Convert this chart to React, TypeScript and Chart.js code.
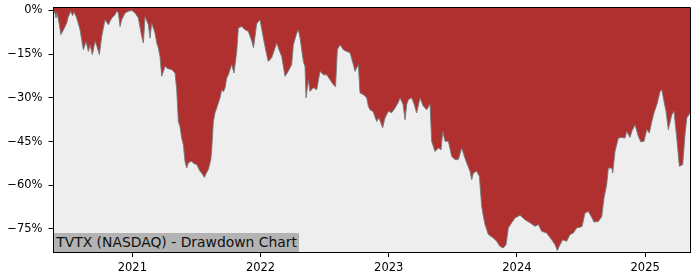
import React, { useEffect, useRef } from "react";
import { Chart, registerables } from "chart.js";

Chart.register(...registerables);

const chartLabel = "TVTX (NASDAQ) - Drawdown Chart";

// decimal-year dates of the sampled points
const years: number[] = [
  2020.385, 2020.397, 2020.405, 2020.413, 2020.431, 2020.442, 2020.459, 2020.488, 2020.501, 2020.52,
  2020.534, 2020.545, 2020.566, 2020.592, 2020.618, 2020.639, 2020.657, 2020.67, 2020.688, 2020.709,
  2020.722, 2020.743, 2020.761, 2020.787, 2020.813, 2020.839, 2020.865, 2020.878, 2020.891, 2020.904,
  2020.917, 2020.943, 2020.969, 2020.995, 2021.021, 2021.047, 2021.073, 2021.086, 2021.099, 2021.125,
  2021.138, 2021.151, 2021.177, 2021.19, 2021.203, 2021.216, 2021.229, 2021.242, 2021.255, 2021.278,
  2021.307, 2021.333, 2021.346, 2021.359, 2021.372, 2021.385, 2021.398, 2021.411, 2021.424, 2021.438,
  2021.463, 2021.481, 2021.502, 2021.528, 2021.544, 2021.562, 2021.575, 2021.593, 2021.612, 2021.619,
  2021.632, 2021.645, 2021.658, 2021.684, 2021.697, 2021.711, 2021.723, 2021.736, 2021.749, 2021.775,
  2021.793, 2021.814, 2021.827, 2021.853, 2021.879, 2021.905, 2021.931, 2021.945, 2021.97, 2021.996,
  2022.022, 2022.048, 2022.061, 2022.087, 2022.113, 2022.126, 2022.144, 2022.165, 2022.191, 2022.215,
  2022.243, 2022.256, 2022.282, 2022.295, 2022.308, 2022.334, 2022.347, 2022.355, 2022.373, 2022.386,
  2022.412, 2022.438, 2022.464, 2022.49, 2022.516, 2022.542, 2022.568, 2022.585, 2022.599, 2022.62,
  2022.646, 2022.672, 2022.698, 2022.724, 2022.737, 2022.763, 2022.776, 2022.802, 2022.828, 2022.841,
  2022.854, 2022.878, 2022.906, 2022.924, 2022.952, 2022.971, 2022.997, 2023.023, 2023.049, 2023.073,
  2023.088, 2023.112, 2023.127, 2023.14, 2023.153, 2023.179, 2023.197, 2023.218, 2023.244, 2023.268,
  2023.296, 2023.322, 2023.335, 2023.361, 2023.387, 2023.408, 2023.421, 2023.439, 2023.465, 2023.491,
  2023.517, 2023.543, 2023.569, 2023.59, 2023.608, 2023.634, 2023.647, 2023.66, 2023.686, 2023.707,
  2023.725, 2023.736, 2023.751, 2023.777, 2023.816, 2023.842, 2023.868, 2023.894, 2023.915, 2023.933,
  2023.959, 2023.985, 2024.024, 2024.063, 2024.102, 2024.141, 2024.167, 2024.193, 2024.232, 2024.271,
  2024.297, 2024.315, 2024.336, 2024.357, 2024.388, 2024.414, 2024.44, 2024.467, 2024.492, 2024.508,
  2024.531, 2024.557, 2024.584, 2024.601, 2024.635, 2024.662, 2024.679, 2024.7, 2024.713, 2024.74,
  2024.747, 2024.765, 2024.791, 2024.818, 2024.843, 2024.857, 2024.882, 2024.896, 2024.921, 2024.947,
  2024.966, 2024.991, 2025.013, 2025.033, 2025.052, 2025.069, 2025.095, 2025.116, 2025.13, 2025.147,
  2025.163, 2025.181, 2025.208, 2025.225, 2025.247, 2025.267, 2025.293, 2025.311, 2025.325, 2025.35,
];

// drawdown in percent
const drawdown: number[] = [
  0, -1.1, -2.6, -0.8, -4.9, -8.3, -7.0, -4.3, -2.1, -0.3,
  -1.8, -0.5, -2.6, -6.6, -13.5, -10.6, -14.1, -11.8, -15.2, -10.6,
  -12.1, -15.2, -8.9, -3.2, -4.9, -2.6, -1.5, -0.3, -0.8, -5.5,
  -3.2, -0.9, -0.3, 0, -0.9, -2.6, -8.9, -11.2, -2.1, -4.9,
  -9.5, -4.3, -7.8, -11.1, -12.9, -15.8, -22.6, -21.0, -19.2, -20.0,
  -20.3, -21.5, -27.2, -38.1, -39.9, -43.8, -46.1, -51.8, -54.1, -52.2,
  -51.8, -52.6, -52.9, -55.2, -56.0, -57.3, -56.0, -54.6, -51.2, -47.8,
  -38.1, -35.1, -33.5, -30.0, -27.2, -27.9, -26.6, -23.2, -22.1, -18.6,
  -21.5, -14.1, -6.0, -5.5, -6.6, -7.2, -10.4, -12.8, -4.6, -3.2,
  -9.5, -15.2, -17.5, -16.2, -12.9, -11.2, -13.5, -15.8, -22.6, -21.0,
  -18.6, -11.8, -7.8, -6.6, -9.4, -17.5, -19.3, -30.0, -23.8, -27.8,
  -26.5, -27.2, -20.9, -22.1, -22.1, -23.8, -25.5, -26.2, -13.5, -11.8,
  -13.5, -14.1, -14.5, -18.6, -20.9, -18.6, -28.3, -28.9, -30.0, -32.9,
  -34.1, -34.7, -38.1, -36.8, -40.3, -36.9, -34.6, -35.1, -33.5, -31.7,
  -30.0, -32.3, -37.5, -32.3, -30.6, -30.0, -32.0, -35.2, -30.0, -32.7,
  -34.1, -32.1, -44.9, -48.4, -47.2, -47.8, -41.5, -44.9, -44.9, -50.1,
  -51.2, -51.2, -47.2, -50.1, -52.3, -55.2, -58.1, -55.8, -55.2, -56.9,
  -67.2, -70.1, -73.5, -76.9, -78.1, -79.2, -81.0, -81.5, -80.4, -74.6,
  -72.9, -71.2, -70.3, -71.8, -72.9, -74.1, -73.5, -75.8, -76.4, -78.7,
  -80.4, -82.4, -80.4, -78.7, -79.2, -76.9, -76.4, -74.6, -74.4, -74.1,
  -69.5, -69.0, -71.1, -72.6, -72.4, -70.7, -64.4, -59.8, -54.1, -54.1,
  -55.8, -48.4, -43.8, -43.6, -43.8, -41.5, -43.6, -41.5, -39.2, -43.2,
  -45.1, -44.9, -40.9, -42.1, -38.1, -35.2, -31.8, -27.8, -27.2, -31.2,
  -34.6, -40.9, -35.8, -34.6, -43.8, -53.5, -52.9, -42.6, -36.9, -35.2,
];

const xTickYears: number[] = [2021, 2022, 2023, 2024, 2025];
const yTickValues: number[] = [0, -15, -30, -45, -60, -75];
const yMin = -82.9;
const yMax = 1.17;

const FONT = "'DejaVu Sans', sans-serif";

export default function App() {
  const canvasRef = useRef<HTMLCanvasElement | null>(null);

  useEffect(() => {
    const canvas = canvasRef.current;
    if (!canvas) return;

    const framePlugin = {
      id: "frame",
      beforeDraw(chart: any) {
        const { ctx, chartArea } = chart;
        ctx.save();
        ctx.fillStyle = "#EEEEEE";
        ctx.fillRect(chartArea.left, chartArea.top, chartArea.right - chartArea.left, chartArea.bottom - chartArea.top);
        ctx.restore();
      },
      afterDraw(chart: any) {
        const { ctx, chartArea } = chart;
        ctx.save();
        ctx.strokeStyle = "#000";
        ctx.lineWidth = 1;
        ctx.beginPath();
        const t = Math.round(chartArea.top) + 0.5;
        const r = Math.round(chartArea.right) + 0.5;
        ctx.moveTo(chartArea.left, t);
        ctx.lineTo(r, t);
        ctx.lineTo(r, chartArea.bottom);
        ctx.stroke();
        ctx.restore();
      },
    };

    const chart = new Chart(canvas, {
      type: "line",
      data: {
        datasets: [
          {
            data: years.map((x, i) => ({ x, y: drawdown[i] })),
            fill: "end",
            backgroundColor: "#B03030",
            borderColor: "rgba(120,120,120,0.9)",
            borderWidth: 1,
            pointRadius: 0,
            tension: 0,
          },
        ],
      },
      options: {
        animation: false,
        responsive: false,
        devicePixelRatio: 1,
        layout: { padding: { top: 7, right: 10, left: 0, bottom: 0 } },
        plugins: { legend: { display: false }, tooltip: { enabled: false } },
        scales: {
          x: {
            type: "linear",
            min: years[0],
            max: years[years.length - 1],
            afterBuildTicks: (axis: any) => {
              axis.ticks = xTickYears.map((v) => ({ value: v }));
            },
            afterFit: (scale: any) => {
              scale.height = 28;
              scale.paddingLeft = 0;
              scale.paddingRight = 0;
            },
            grid: { drawOnChartArea: false, drawTicks: true, tickLength: 5, color: "#000" },
            border: { display: true, color: "#000", width: 1 },
            ticks: {
              color: "#000",
              font: { family: FONT, size: 11.5 },
              padding: 4,
              maxRotation: 0,
              autoSkip: false,
              callback: (v: any) => String(v),
            },
          },
          y: {
            type: "linear",
            min: yMin,
            max: yMax,
            afterBuildTicks: (axis: any) => {
              axis.ticks = yTickValues.map((v) => ({ value: v }));
            },
            afterFit: (scale: any) => {
              scale.width = 53.5;
              scale.paddingTop = 0;
              scale.paddingBottom = 0;
            },
            grid: { drawOnChartArea: false, drawTicks: true, tickLength: 5, color: "#000" },
            border: { display: true, color: "#000", width: 1 },
            ticks: {
              color: "#000",
              font: { family: FONT, size: 11.5 },
              padding: 6,
              autoSkip: false,
              callback: (v: any) => (v < 0 ? "\u2212" : "") + Math.abs(v) + "%",
            },
          },
        },
      },
      plugins: [framePlugin],
    });

    return () => chart.destroy();
  }, []);

  return (
    <div style={{ position: "fixed", left: 0, top: 0, width: 700, height: 280, background: "#fff" }}>
      <canvas ref={canvasRef} width={700} height={280} style={{ display: "block", width: 700, height: 280 }} />
      <div
        style={{
          position: "absolute",
          left: 53.5,
          top: 233.3,
          width: 245,
          height: 19,
          background: "#B3B3B3",
          color: "#111",
          fontFamily: FONT,
          fontSize: 13.9,
          lineHeight: "19px",
          paddingLeft: 2.7,
          boxSizing: "border-box",
          whiteSpace: "nowrap",
          overflow: "hidden",
        }}
      >
        {chartLabel}
      </div>
    </div>
  );
}
